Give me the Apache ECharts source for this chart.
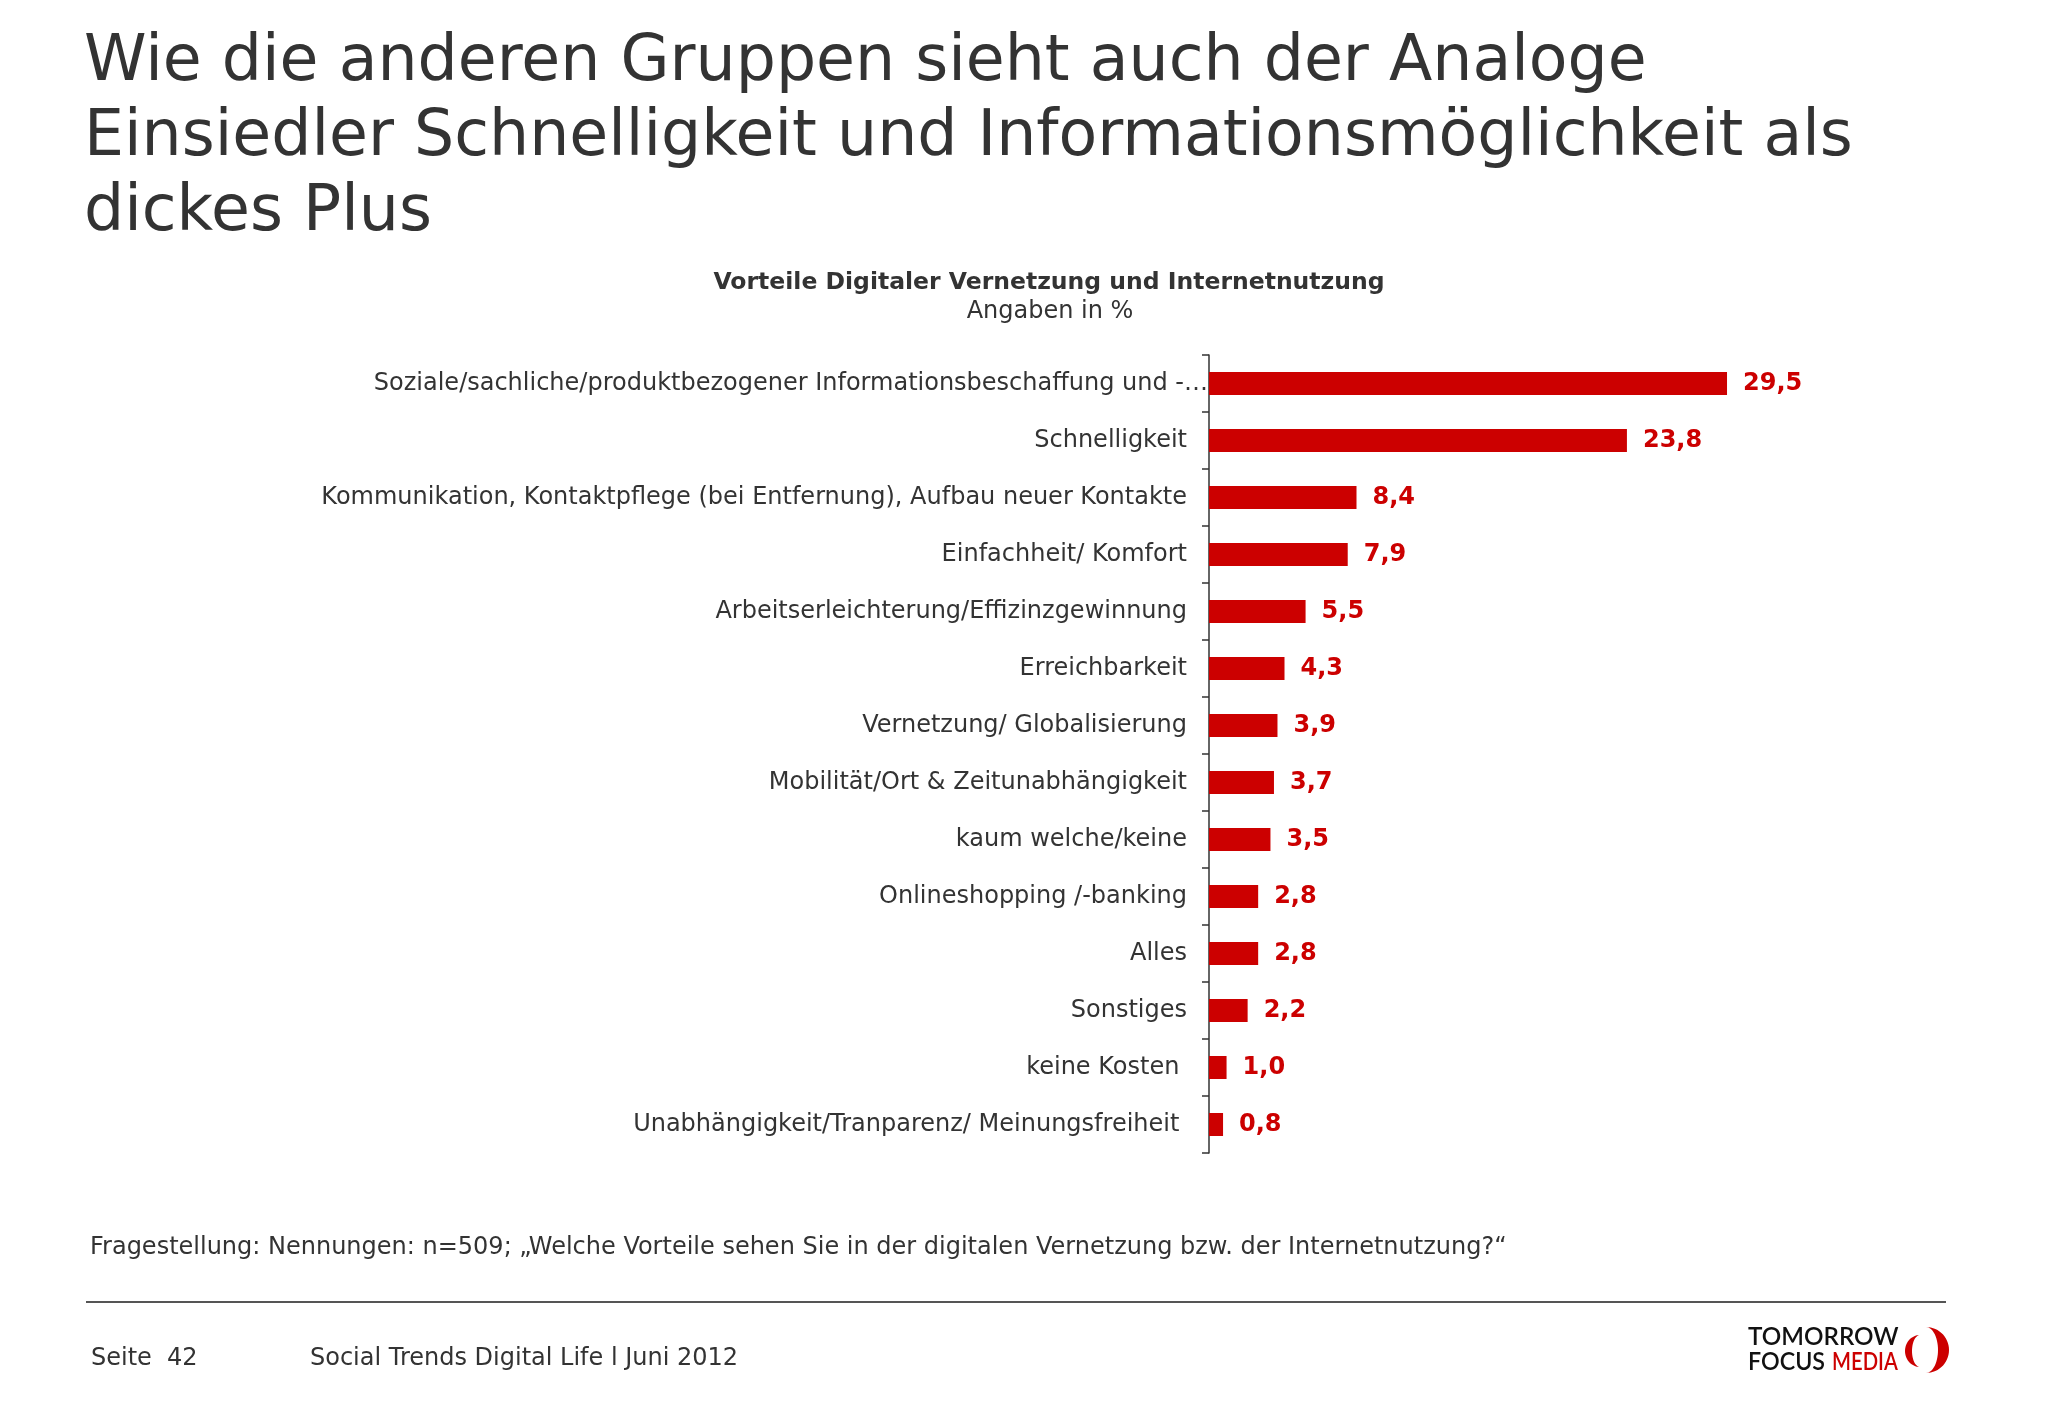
<!DOCTYPE html>
<html>
<head>
<meta charset="utf-8">
<script src="https://cdn.jsdelivr.net/npm/echarts@6/dist/echarts.min.js"></script>
<style>
html,body{margin:0;padding:0;background:#fff;}
#c{width:2048px;height:1418px;}
</style>
</head>
<body>
<div id="c"></div>
<script>
const categories = [
  'Soziale/sachliche/produktbezogener Informationsbeschaffung und -…',
  'Schnelligkeit',
  'Kommunikation, Kontaktpflege (bei Entfernung), Aufbau neuer Kontakte',
  'Einfachheit/ Komfort',
  'Arbeitserleichterung/Effizinzgewinnung',
  'Erreichbarkeit',
  'Vernetzung/ Globalisierung',
  'Mobilität/Ort & Zeitunabhängigkeit',
  'kaum welche/keine',
  'Onlineshopping /-banking',
  'Alles',
  'Sonstiges',
  'keine Kosten ',
  'Unabhängigkeit/Tranparenz/ Meinungsfreiheit '
];
const values = [29.5, 23.8, 8.4, 7.9, 5.5, 4.3, 3.9, 3.7, 3.5, 2.8, 2.8, 2.2, 1.0, 0.8];

const mainTitle = 'Wie die anderen Gruppen sieht auch der Analoge\nEinsiedler Schnelligkeit und Informationsmöglichkeit als\ndickes Plus';
const chartTitle = 'Vorteile Digitaler Vernetzung und Internetnutzung';
const chartSubtitle = 'Angaben in %';
const footnote = 'Fragestellung: Nennungen: n=509; \u201EWelche Vorteile sehen Sie in der digitalen Vernetzung bzw. der Internetnutzung?\u201C';
const pageText = 'Seite  42';
const sourceText = 'Social Trends Digital Life l Juni 2012';

const FONT = '"DejaVu Sans", Verdana, sans-serif';
const LOGOFONT = '600 25px Lato, "Open Sans", sans-serif';
const RED = '#CC0000';
const TXT = '#333333';

// crescent outline for the logo decoration
function crescent(cx, cy, rxOuter, rxInner, ry, dir) {
  const pts = [];
  const n = 30;
  for (let i = 0; i <= n; i++) {
    const a = -Math.PI / 2 + Math.PI * i / n;
    pts.push([cx + dir * rxOuter * Math.cos(a), cy + ry * Math.sin(a)]);
  }
  for (let i = n; i >= 0; i--) {
    const a = -Math.PI / 2 + Math.PI * i / n;
    pts.push([cx + dir * rxInner * Math.cos(a), cy + ry * Math.sin(a)]);
  }
  return pts;
}

const chart = echarts.init(document.getElementById('c'));
chart.setOption({
  backgroundColor: '#ffffff',
  animation: false,
  title: [
    { text: mainTitle, left: 79, top: 21,
      textStyle: { fontFamily: FONT, fontSize: 63.3, fontWeight: 'normal', color: TXT, lineHeight: 75 } },
    { text: chartTitle, left: 1044, top: 266, textAlign: 'center',
      textStyle: { fontFamily: FONT, fontSize: 23.5, fontWeight: 'bold', color: TXT } },
    { text: chartSubtitle, left: 1045, top: 295, textAlign: 'center',
      textStyle: { fontFamily: FONT, fontSize: 24, fontWeight: 'normal', color: TXT } },
    { text: footnote, left: 85, top: 1231,
      textStyle: { fontFamily: FONT, fontSize: 24, fontWeight: 'normal', color: TXT } },
    { text: pageText, left: 86, top: 1342,
      textStyle: { fontFamily: FONT, fontSize: 24, fontWeight: 'normal', color: TXT } },
    { text: sourceText, left: 305, top: 1342,
      textStyle: { fontFamily: FONT, fontSize: 24, fontWeight: 'normal', color: TXT } }
  ],
  grid: { left: 1209, top: 355, width: 614.6, height: 798, containLabel: false },
  xAxis: { type: 'value', min: 0, max: 35, show: false },
  yAxis: {
    type: 'category', data: categories, inverse: true,
    axisLine: { show: true, lineStyle: { color: '#333', width: 1.5 } },
    axisTick: { show: true, length: 7, lineStyle: { color: '#333', width: 1.5 } },
    axisLabel: {
      margin: 1, fontFamily: FONT, fontSize: 24, color: TXT,
      formatter: v => v.endsWith('…') ? v : v + '{s|}',
      rich: { s: { width: 21, height: 1 } }
    },
    splitLine: { show: false }
  },
  series: [{
    type: 'bar', data: values, barWidth: 23,
    itemStyle: { color: RED },
    label: { show: true, position: 'right', distance: 16, fontFamily: FONT, fontSize: 24,
      fontWeight: 'bold', color: RED,
      formatter: p => p.value.toFixed(1).replace('.', ',') }
  }],
  graphic: [
    { type: 'line', shape: { x1: 86, y1: 1302, x2: 1946, y2: 1302 },
      style: { stroke: '#555', lineWidth: 2 } },
    { type: 'text', x: 1748, y: 1337, scaleX: 0.97,
      style: { text: 'TOMORROW', font: LOGOFONT, fill: '#111', verticalAlign: 'middle' } },
    { type: 'text', x: 1748, y: 1362, scaleX: 0.93,
      style: { text: 'FOCUS', font: LOGOFONT, fill: '#111', verticalAlign: 'middle' } },
    { type: 'text', x: 1832, y: 1362, scaleX: 0.81,
      style: { text: 'MEDIA', font: LOGOFONT, fill: RED, verticalAlign: 'middle' } },
    { type: 'polygon', shape: { points: crescent(1926, 1350, 23, 12, 23, 1) }, style: { fill: RED } },
    { type: 'polygon', shape: { points: crescent(1920, 1351, 15, 8, 16, -1) }, style: { fill: RED } }
  ]
});
</script>
</body>
</html>
